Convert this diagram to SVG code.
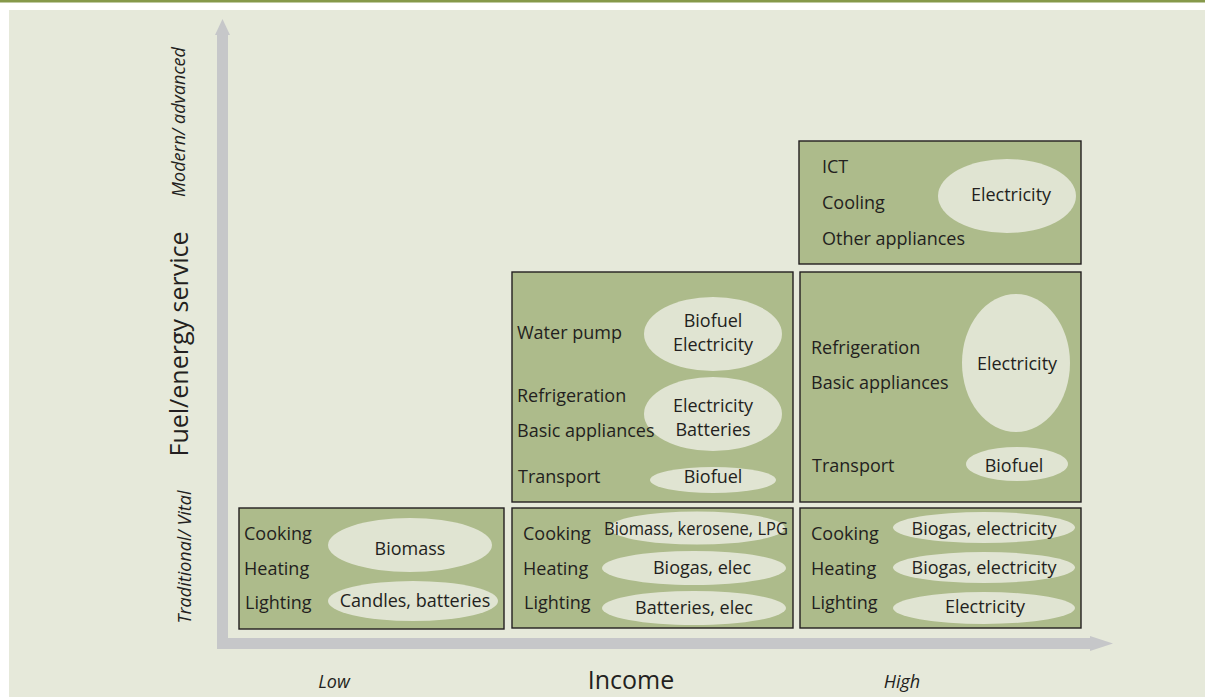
<svg xmlns="http://www.w3.org/2000/svg" width="1205" height="697" viewBox="0 0 1205 697">
<style>
.box{fill:#adbb8b;stroke:#231f20;stroke-width:1.4}
.ell{fill:#e0e4d2}
.t{font-family:"Open Sans","Liberation Sans",sans-serif;font-size:18px;fill:#231f20}
.m{text-anchor:middle}
.it{font-style:italic}
.axis{fill:#c6c7c9}
</style>
<rect x="0" y="0" width="1205" height="697" fill="#ffffff"/>
<rect x="0" y="0" width="1205" height="2.5" fill="#86994b"/>
<rect x="9" y="10" width="1196" height="687" fill="#e6e9da"/>

<g id="connectors">
<path class="axis" d="M217,35 L215,35 L222.5,19 L230,35 L228,35 L228,638 L1090,638 L1090,636 L1113,643.5 L1090,651 L1090,649 L217,649 Z"/>
</g>

<g id="axis-labels">
<text class="t it m" transform="translate(185,122) rotate(-90)">Modern/ advanced</text>
<text class="t m" style="font-size:25px" transform="translate(188,344) rotate(-90)">Fuel/energy service</text>
<text class="t it m" transform="translate(191,557) rotate(-90)">Traditional/ Vital</text>
<text class="t it m" x="334" y="688">Low</text>
<text class="t m" style="font-size:25px" x="631" y="689">Income</text>
<text class="t it m" x="902" y="688">High</text>
</g>

<g id="low-traditional">
<rect class="box" x="239" y="508" width="265" height="121"/>
<ellipse class="ell" cx="410" cy="545" rx="82" ry="27"/>
<ellipse class="ell" cx="413" cy="601" rx="85" ry="20"/>
<text class="t" x="244" y="540">Cooking</text>
<text class="t" x="244" y="575">Heating</text>
<text class="t" x="245" y="609">Lighting</text>
<text class="t m" x="410" y="555">Biomass</text>
<text class="t m" x="415" y="607">Candles, batteries</text>
</g>

<g id="mid-traditional">
<rect class="box" x="512" y="508" width="281" height="120"/>
<ellipse class="ell" cx="697" cy="528" rx="88" ry="16.5"/>
<ellipse class="ell" cx="694" cy="568" rx="92" ry="17"/>
<ellipse class="ell" cx="694" cy="608" rx="92" ry="17"/>
<text class="t" x="523" y="540">Cooking</text>
<text class="t" x="523" y="575">Heating</text>
<text class="t" x="524" y="609">Lighting</text>
<text class="t m" x="696" y="535" textLength="184" lengthAdjust="spacingAndGlyphs">Biomass, kerosene, LPG</text>
<text class="t m" x="702" y="574">Biogas, elec</text>
<text class="t m" x="694" y="614">Batteries, elec</text>
</g>

<g id="high-traditional">
<rect class="box" x="800" y="508" width="281" height="120"/>
<ellipse class="ell" cx="984" cy="527.5" rx="91" ry="15.5"/>
<ellipse class="ell" cx="984" cy="567.5" rx="91" ry="15.5"/>
<ellipse class="ell" cx="984" cy="608" rx="91" ry="16"/>
<text class="t" x="811" y="540">Cooking</text>
<text class="t" x="811" y="575">Heating</text>
<text class="t" x="811" y="609">Lighting</text>
<text class="t m" x="984" y="535">Biogas, electricity</text>
<text class="t m" x="984" y="574">Biogas, electricity</text>
<text class="t m" x="985" y="613">Electricity</text>
</g>

<g id="mid-intermediate">
<rect class="box" x="512" y="272" width="281" height="230"/>
<ellipse class="ell" cx="713" cy="334" rx="69" ry="37"/>
<ellipse class="ell" cx="713" cy="414" rx="69" ry="37"/>
<ellipse class="ell" cx="713" cy="480" rx="63" ry="13"/>
<text class="t" x="517" y="339">Water pump</text>
<text class="t" x="517" y="402">Refrigeration</text>
<text class="t" x="517" y="437">Basic appliances</text>
<text class="t" x="518" y="483">Transport</text>
<text class="t m" x="713" y="327">Biofuel</text>
<text class="t m" x="713" y="351">Electricity</text>
<text class="t m" x="713" y="412">Electricity</text>
<text class="t m" x="713" y="436">Batteries</text>
<text class="t m" x="713" y="483">Biofuel</text>
</g>

<g id="high-intermediate">
<rect class="box" x="800" y="272" width="281" height="230"/>
<ellipse class="ell" cx="1016" cy="363" rx="54" ry="69"/>
<ellipse class="ell" cx="1017" cy="464" rx="51" ry="17"/>
<text class="t" x="811" y="354">Refrigeration</text>
<text class="t" x="811" y="389">Basic appliances</text>
<text class="t" x="812" y="472">Transport</text>
<text class="t m" x="1017" y="370">Electricity</text>
<text class="t m" x="1014" y="472">Biofuel</text>
</g>

<g id="high-modern">
<rect class="box" x="799" y="141" width="282" height="123"/>
<ellipse class="ell" cx="1007" cy="196" rx="69" ry="37"/>
<text class="t" x="822" y="173">ICT</text>
<text class="t" x="822" y="209">Cooling</text>
<text class="t" x="822" y="245">Other appliances</text>
<text class="t m" x="1011" y="201">Electricity</text>
</g>
</svg>
